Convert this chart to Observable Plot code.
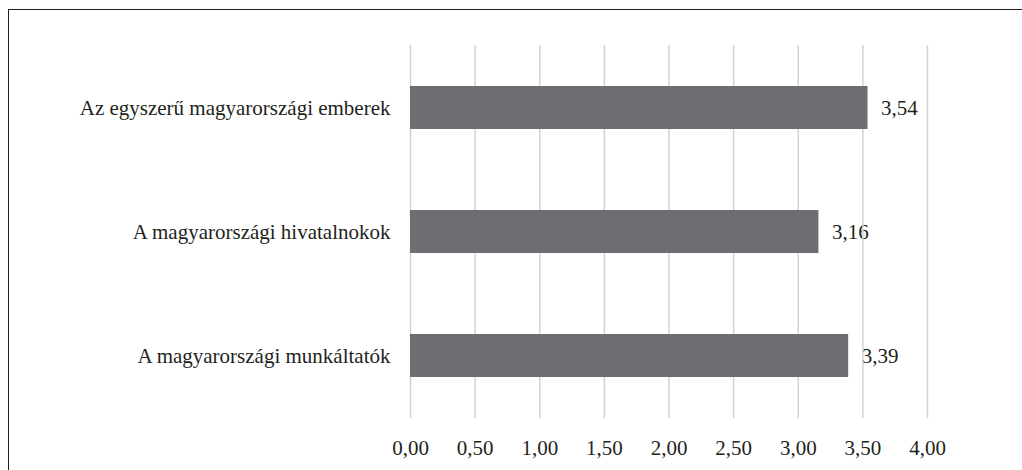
<!DOCTYPE html>
<html><head><meta charset="utf-8">
<script src="https://cdn.jsdelivr.net/npm/d3@7"></script>
<script src="https://cdn.jsdelivr.net/npm/@observablehq/plot@0.6"></script>
<style>
html,body{margin:0;padding:0;background:#fff;overflow:hidden;}
#wrap{position:relative;width:1022px;height:470px;}
#frame{position:absolute;left:8px;top:9px;width:1100px;height:600px;border:1.5px solid #231f20;box-sizing:border-box;pointer-events:none;}
</style></head>
<body><div id="wrap"><div id="frame"></div></div>
<script>
const categories = ["Az egyszerű magyarországi emberek", "A magyarországi hivatalnokok", "A magyarországi munkáltatók"];
const values = [3.54, 3.16, 3.39];
const xTicks = [0, 0.5, 1, 1.5, 2, 2.5, 3, 3.5, 4];
const data = categories.map((c, i) => ({category: c, value: values[i]}));
const fmt = d => d.toFixed(2).replace(".", ",");
const FONT = "Liberation Serif";
const chart = Plot.plot({
  width: 1022, height: 470,
  marginLeft: 410, marginRight: 95, marginTop: 45, marginBottom: 52,
  style: {fontFamily: FONT, fontSize: "21px", color: "#231f20", background: "transparent"},
  x: {domain: [0, 4], label: null},
  y: {domain: categories, paddingInner: 0.65, paddingOuter: 0.325, label: null},
  marks: [
    Plot.text(data, {x: "value", y: "category", text: d => fmt(d.value), dx: 13, textAnchor: "start", fill: "#231f20", fontSize: 21, fontFamily: FONT}),
    Plot.gridX(xTicks, {stroke: "#d2d2d2", strokeOpacity: 1, strokeWidth: 1.5}),
    Plot.barX(data, {x: "value", y: "category", fill: "#6d6e71"}),
    Plot.axisX({ticks: xTicks, tickFormat: fmt, tickSize: 0, tickPadding: 22, label: null, fontFamily: FONT, fontSize: 21, fill: "#231f20"}),
    Plot.axisY({tickSize: 0, tickPadding: 20, label: null, fontFamily: FONT, fontSize: 21, fill: "#231f20"})
  ]
});
chart.style.position = "absolute"; chart.style.left = "0"; chart.style.top = "0";
document.getElementById("wrap").prepend(chart);
</script></body></html>
